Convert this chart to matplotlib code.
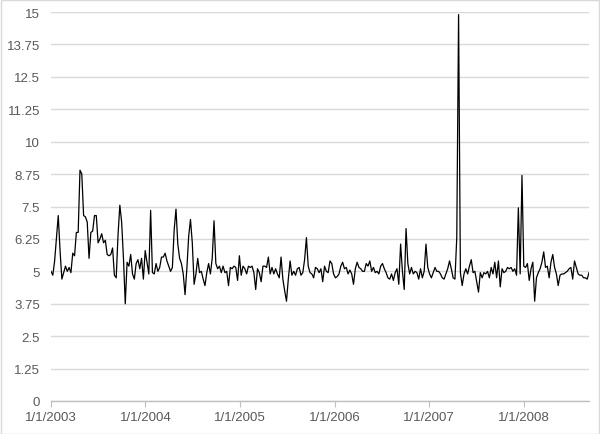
import matplotlib
matplotlib.use("Agg")
import matplotlib.pyplot as plt
import matplotlib.dates as mdates
from matplotlib.patches import Rectangle
import pandas as pd

# ---- data (weekly observations) ----
start_date = "2003-01-01"
values = [
    5.0, 4.85, 5.4, 6.3, 7.15, 5.8, 4.7, 4.95, 5.2, 5.0,
    5.15, 4.95, 5.7, 5.6, 6.5, 6.5, 8.9, 8.75, 7.15, 7.1,
    6.9, 5.5, 6.5, 6.55, 7.15, 7.15, 6.1, 6.25, 6.45, 6.1,
    6.2, 5.65, 5.6, 5.65, 5.9, 4.85, 4.75, 6.4, 7.55, 6.9,
    5.5, 3.75, 5.35, 5.2, 5.65, 4.9, 4.7, 5.3, 5.45, 5.1,
    5.5, 4.7, 5.8, 5.35, 4.9, 7.35, 4.95, 4.9, 5.3, 5.0,
    5.15, 5.55, 5.55, 5.7, 5.4, 5.2, 5.0, 5.15, 6.6, 7.4,
    6.05, 5.5, 5.3, 4.9, 4.1, 5.1, 6.35, 7.0, 6.1, 4.5,
    4.9, 5.5, 4.95, 5.0, 4.7, 4.45, 4.95, 5.3, 4.9, 5.5,
    6.95, 5.3, 5.1, 5.2, 4.95, 5.2, 4.95, 5.0, 4.45, 5.15,
    5.1, 5.2, 5.15, 4.65, 5.6, 4.85, 5.2, 5.1, 4.9, 5.2,
    5.15, 5.2, 4.95, 4.3, 5.1, 4.95, 4.6, 5.2, 5.2, 5.15,
    5.55, 4.9, 5.15, 4.9, 5.1, 4.9, 4.75, 5.55, 4.7, 4.25,
    3.85, 4.7, 5.4, 4.85, 5.0, 4.85, 5.1, 5.15, 4.85, 4.95,
    5.45, 6.3, 5.2, 4.95, 4.9, 4.75, 5.15, 5.1, 4.95, 5.1,
    4.6, 5.2, 5.0, 4.95, 5.4, 5.3, 4.9, 4.75, 4.8, 4.9,
    5.2, 5.35, 5.1, 5.15, 4.9, 5.05, 4.9, 4.5, 5.1, 5.35,
    5.15, 5.1, 5.0, 5.0, 5.3, 5.2, 5.4, 5.0, 5.15, 4.95,
    5.0, 4.9, 5.2, 5.3, 5.1, 4.95, 4.75, 4.7, 4.9, 4.65,
    4.95, 5.1, 4.5, 6.05, 5.0, 4.3, 6.65, 5.3, 4.9, 5.15,
    4.9, 5.0, 4.95, 4.7, 5.1, 4.75, 5.0, 6.05, 5.15, 4.9,
    4.75, 4.95, 5.15, 5.0, 5.0, 4.9, 4.75, 4.7, 4.9, 5.1,
    5.4, 5.1, 4.75, 4.7, 6.3, 14.9, 4.95, 4.45, 4.9, 5.1,
    4.9, 5.2, 5.45, 4.95, 5.0, 4.6, 4.2, 4.95, 4.75, 4.95,
    4.9, 5.0, 4.75, 5.15, 4.9, 5.35, 4.75, 5.4, 4.4, 5.1,
    4.95, 5.0, 5.15, 5.1, 5.15, 5.0, 5.1, 4.85, 7.45, 4.9,
    8.7, 5.2, 5.15, 5.3, 4.65, 5.1, 5.35, 3.85, 4.75, 4.95,
    5.1, 5.35, 5.75, 5.15, 5.2, 4.75, 5.35, 5.65, 5.15, 4.9,
    4.45, 4.85, 4.9, 4.9, 4.95, 5.0, 5.1, 5.15, 4.7, 5.4,
    5.15, 4.9, 4.85, 4.85, 4.75, 4.75, 4.7, 4.95,
]
tick_years = [2003, 2004, 2005, 2006, 2007, 2008]
tick_labels = ["1/1/2003", "1/1/2004", "1/1/2005", "1/1/2006", "1/1/2007", "1/1/2008"]
y_ticks = [0, 1.25, 2.5, 3.75, 5, 6.25, 7.5, 8.75, 10, 11.25, 12.5, 13.75, 15]

dates = pd.date_range(start_date, periods=len(values), freq="7D")

plt.rcParams["font.family"] = ["Liberation Sans", "DejaVu Sans"]
fig = plt.figure(figsize=(6.0, 4.35), dpi=100)
ax = fig.add_axes([51 / 600, 1 - 402 / 435, 538 / 600, 389 / 435])

ax.plot(dates, values, color="black", linewidth=0.9)

ax.set_ylim(0, 15)
ax.set_yticks(y_ticks)
ax.set_yticklabels(["{:g}".format(t) for t in y_ticks])
ax.set_xlim(dates[0], dates[-1])
tick_dates = [pd.Timestamp(f"{y}-01-01") for y in tick_years]
ax.set_xticks(mdates.date2num(tick_dates))
ax.set_xticklabels(tick_labels)

ax.grid(axis="y", color="#d9d9d9", linewidth=1.0)
ax.set_axisbelow(True)
for s in ["left", "right", "top"]:
    ax.spines[s].set_visible(False)
ax.spines["bottom"].set_color("#bfbfbf")
ax.spines["bottom"].set_linewidth(1.0)
ax.tick_params(axis="y", length=0, pad=8, labelsize=9.5, labelcolor="#595959")
ax.tick_params(axis="x", length=4, color="#bfbfbf", pad=3, labelsize=9.5, labelcolor="#595959")

fig.patches.append(Rectangle((0.001, 0.001), 0.998, 0.997, transform=fig.transFigure,
                             fill=False, edgecolor="#d9d9d9", linewidth=1.0))

fig.savefig("out.png", dpi=100)
